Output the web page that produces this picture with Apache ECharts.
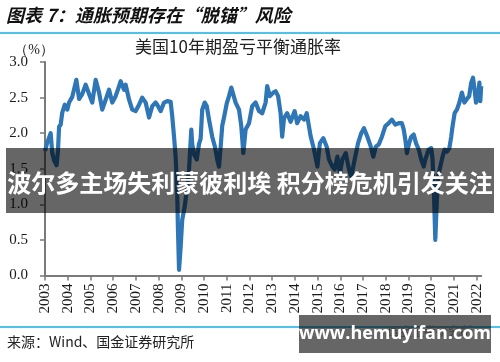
<!DOCTYPE html>
<html>
<head>
<meta charset="utf-8">
<script src="https://cdn.jsdelivr.net/npm/echarts@6/dist/echarts.min.js"></script>
<style>
html,body{margin:0;padding:0;background:#fff;}
#c{width:500px;height:362px;}
</style>
</head>
<body>
<div id="c"></div>
<script>
var pageTitle = '图表 7：通胀预期存在“脱锚”风险';
var chartTitle = '美国10年期盈亏平衡通胀率';
var unitLabel = '（%）';
var sourceText = '来源：Wind、国金证券研究所';
var overlayText = '波尔多主场失利蒙彼利埃 积分榜危机引发关注';
var watermarkText = 'www.hemuyifan.com';
var yTicks = [0.0, 0.5, 1.0, 1.5, 2.0, 2.5, 3.0];
var xTickYears = [2003,2004,2005,2006,2007,2008,2009,2010,2011,2012,2013,2014,2015,2016,2017,2018,2019,2020,2021,2022];

var dates = [
2003.00,2003.10,2003.25,2003.32,2003.40,2003.51,2003.57,2003.62,2003.69,2003.76,2003.87,2003.98,
2004.06,2004.20,2004.38,2004.50,2004.64,2004.79,2004.94,2005.08,2005.23,2005.38,2005.52,2005.67,
2005.82,2005.96,2006.11,2006.26,2006.33,2006.48,2006.55,2006.70,2006.84,2006.99,2007.14,2007.28,
2007.43,2007.58,2007.72,2007.87,2007.94,2008.09,2008.24,2008.38,2008.53,2008.60,2008.68,2008.75,
2008.82,2008.85,2008.90,2008.97,2009.04,2009.15,2009.22,2009.34,2009.44,2009.48,2009.56,2009.68,
2009.78,2009.85,2009.92,2010.03,2010.12,2010.22,2010.36,2010.48,2010.58,2010.66,2010.73,2010.80,
2010.88,2011.00,2011.10,2011.20,2011.27,2011.39,2011.54,2011.64,2011.73,2011.83,2011.98,2012.12,
2012.27,2012.42,2012.56,2012.71,2012.78,2012.90,2013.05,2013.15,2013.26,2013.37,2013.44,2013.52,
2013.66,2013.81,2013.99,2014.10,2014.25,2014.40,2014.52,2014.59,2014.69,2014.84,2014.99,2015.10,
2015.25,2015.40,2015.50,2015.65,2015.75,2015.87,2015.98,2016.09,2016.24,2016.38,2016.48,2016.63,
2016.78,2016.92,2017.04,2017.19,2017.34,2017.45,2017.56,2017.69,2017.83,2017.98,2018.13,2018.27,
2018.42,2018.57,2018.71,2018.79,2018.86,2018.93,2019.03,2019.12,2019.23,2019.33,2019.45,2019.56,
2019.67,2019.74,2019.89,2020.00,2020.06,2020.12,2020.18,2020.24,2020.30,2020.40,2020.50,2020.59,
2020.69,2020.80,2020.88,2020.94,2021.03,2021.13,2021.24,2021.35,2021.46,2021.57,2021.67,2021.76,
2021.84,2021.91,2021.97,2022.06,2022.12,2022.16,2022.20
];
var breakeven = [
1.75,1.87,2.00,1.72,1.62,1.55,1.75,2.09,2.12,2.29,2.40,2.33,
2.43,2.51,2.75,2.48,2.55,2.68,2.55,2.43,2.75,2.57,2.33,2.47,
2.61,2.43,2.52,2.66,2.73,2.61,2.68,2.47,2.33,2.31,2.40,2.50,
2.43,2.22,2.38,2.43,2.40,2.31,2.43,2.45,2.44,2.24,1.95,1.67,
1.16,0.68,0.08,0.40,0.78,0.97,1.15,1.49,2.05,1.85,1.70,1.63,
1.85,1.92,2.33,2.43,2.38,2.19,1.95,1.81,1.63,1.53,1.80,2.10,
2.22,2.42,2.52,2.64,2.66,2.43,2.33,2.10,1.72,2.05,2.14,2.38,
2.43,2.31,2.28,2.43,2.66,2.52,2.57,2.59,2.52,2.28,1.95,2.21,
2.28,2.16,2.31,2.14,2.24,2.19,2.28,2.15,1.96,1.77,1.53,1.86,
1.93,1.81,1.63,1.53,1.49,1.67,1.44,1.63,1.72,1.49,1.39,1.63,
1.86,2.00,2.07,1.95,1.81,1.67,1.81,1.84,1.95,2.10,2.14,2.19,
2.12,2.14,2.14,2.05,1.91,1.72,1.86,1.95,1.98,1.86,1.77,1.63,
1.53,1.63,1.77,1.79,1.63,1.16,0.50,1.00,1.39,1.53,1.67,1.77,
1.74,1.79,1.95,2.10,2.28,2.33,2.43,2.57,2.43,2.48,2.52,2.71,
2.78,2.61,2.43,2.52,2.71,2.45,2.66
];

var seriesData = dates.map(function (d, i) { return [d, breakeven[i]]; });

var chart = echarts.init(document.getElementById('c'), null, {renderer: 'canvas'});
var serif = '"Liberation Serif", "Times New Roman", serif';
var cjk = '"Noto Sans CJK SC", sans-serif';
var axisGray = '#7a7a7a';

chart.setOption({
  animation: false,
  backgroundColor: '#ffffff',
  grid: {left: 45, right: 18.8, top: 62, bottom: 86.5, containLabel: false},
  xAxis: {
    type: 'value',
    min: xTickYears[0],
    max: 2022.2,
    interval: 1,
    axisLine: {show: true, lineStyle: {color: axisGray, width: 2}},
    axisTick: {show: true, inside: false, length: 5, lineStyle: {color: axisGray, width: 1.5},
      customValues: xTickYears},
    axisLabel: {
      rotate: 90, margin: 8, color: '#1a1a1a', fontFamily: serif, fontSize: 15,
      customValues: xTickYears,
      formatter: function (v) { return String(Math.round(v)); }
    },
    splitLine: {show: false}
  },
  yAxis: {
    type: 'value',
    min: yTicks[0],
    max: yTicks[yTicks.length - 1],
    interval: 0.5,
    axisLine: {show: true, lineStyle: {color: axisGray, width: 2}},
    axisTick: {show: true, inside: false, length: 5, lineStyle: {color: axisGray, width: 1.5}},
    axisLabel: {margin: 17, color: '#1a1a1a', fontFamily: serif, fontSize: 15,
      formatter: function (v) { return v.toFixed(1); }},
    splitLine: {show: false}
  },
  series: [{
    type: 'line',
    data: seriesData,
    showSymbol: false,
    smooth: false,
    lineStyle: {color: '#2f76b6', width: 4.2, join: 'round'},
    z: 2
  }],
  graphic: [
    {type: 'text', left: 6, top: 6, z: 50,
      style: {text: pageTitle, fill: '#111', font: 'italic bold 18px ' + cjk}},
    {type: 'rect', shape: {x: 0, y: 32, width: 500, height: 2}, z: 50,
      style: {fill: '#4cc3ec'}},
    {type: 'text', x: 238, y: 47, z: 50,
      style: {text: chartTitle, fill: '#222', font: '17px ' + cjk, align: 'center', verticalAlign: 'middle'}},
    {type: 'text', x: 34, y: 50, z: 50,
      style: {text: unitLabel, fill: '#222', font: '14px ' + serif, align: 'center', verticalAlign: 'middle'}},
    {type: 'rect', shape: {x: 0, y: 326, width: 500, height: 2}, z: 50,
      style: {fill: '#4cc3ec'}},
    {type: 'text', x: 7, y: 342, z: 50,
      style: {text: sourceText, fill: '#222', font: '14px ' + cjk, verticalAlign: 'middle'}},
    {type: 'text', x: 430, y: 331, z: 50,
      style: {text: '国金证券研究所', fill: '#9a9a9a', font: '12px ' + cjk, align: 'center', verticalAlign: 'middle'}},
    {type: 'rect', shape: {x: 6, y: 148, width: 488, height: 65}, z: 100,
      style: {fill: 'rgba(0,0,0,0.6)'}},
    {type: 'text', x: 250, y: 183, z: 101,
      style: {text: overlayText, fill: '#ffffff', font: 'bold 24px ' + cjk, align: 'center', verticalAlign: 'middle'}},
    {type: 'rect', shape: {x: 299, y: 315, width: 192, height: 38}, z: 100,
      style: {fill: 'rgba(0,0,0,0.6)'}},
    {type: 'text', x: 395, y: 334, z: 101,
      style: {text: watermarkText, fill: '#ffffff', font: 'bold 18px "Open Sans", "Noto Sans", sans-serif', align: 'center', verticalAlign: 'middle'}}
  ]
});
</script>
</body>
</html>
